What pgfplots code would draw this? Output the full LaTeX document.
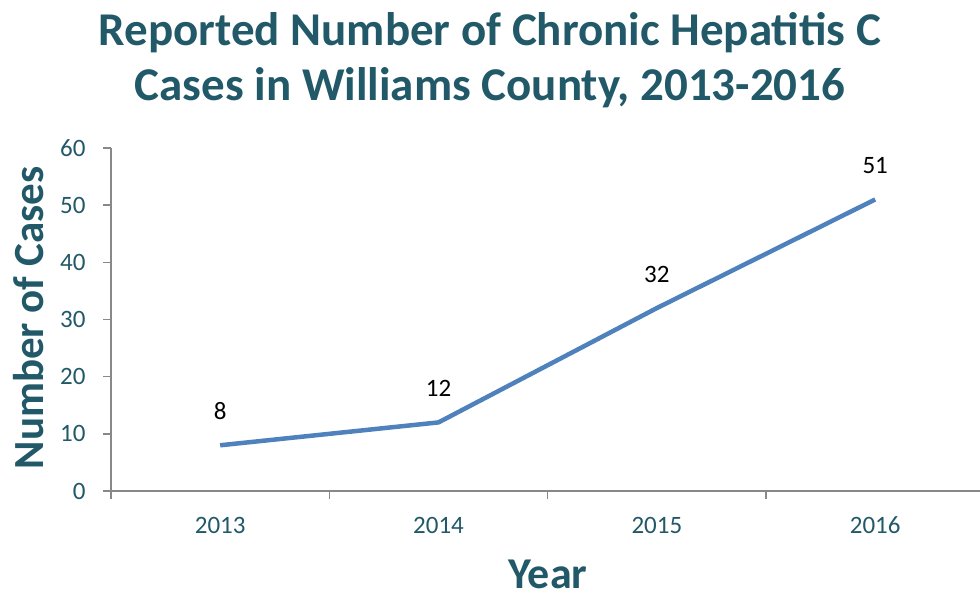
\documentclass[border=0pt]{standalone}
\usepackage{pgfplots}
\pgfplotsset{compat=1.18}
\usepackage{fontspec}
\setmainfont{Carlito}
\definecolor{teal}{HTML}{215968}
\definecolor{lineblue}{HTML}{4F81BD}
\definecolor{axgray}{HTML}{888888}
\begin{document}
\begin{tikzpicture}[x=1pt,y=1pt]
\useasboundingbox (0,0) rectangle (980,598);
\begin{axis}[
  at={(111pt,107pt)}, anchor=south west,
  scale only axis, width=869pt, height=343pt,
  xmin=-0.5, xmax=3.48, ymin=0, ymax=60,
  axis x line=bottom, axis y line=left,
  axis line style={axgray, line width=1.5pt, -},
  xtick={0,1,2,3}, xticklabels={2013,2014,2015,2016},
  minor xtick={-0.5,0.5,1.5,2.5},
  minor tick length=8pt,
  ytick={0,10,...,60},
  tick align=outside,
  major tick length=8pt,
  xtick style={axgray, line width=1.5pt},
  major x tick style={draw=none},
  y tick style={axgray, line width=1.5pt},
  tick label style={text=teal},
  x tick label style={font=\fontsize{25}{25}\selectfont, anchor=base, inner sep=0pt, yshift=-34pt},
  y tick label style={font=\fontsize{25}{25}\selectfont, xshift=-14pt},
  /pgf/number format/assume math mode=true,
  clip=false,
]
\addplot[lineblue, line width=4.5pt, line join=round,
  nodes near coords,
  nodes near coords style={text=black, font=\fontsize{25}{25}\selectfont, anchor=base, inner sep=0pt, yshift=26pt}]
  coordinates {(0,8) (1,12) (2,32) (3,51)};
\end{axis}
\node[text=teal, font=\bfseries\fontsize{47}{55}\selectfont, align=center, anchor=base] at (490,497) {Reported Number of Chronic Hepatitis C\\Cases in Williams County, 2013-2016};
\node[text=teal, font=\bfseries\fontsize{43}{43}\selectfont, rotate=90, anchor=base] at (43,280) {Number of Cases};
\node[text=teal, font=\bfseries\fontsize{44}{44}\selectfont, anchor=base] at (548,10) {Year};
\end{tikzpicture}
\end{document}
